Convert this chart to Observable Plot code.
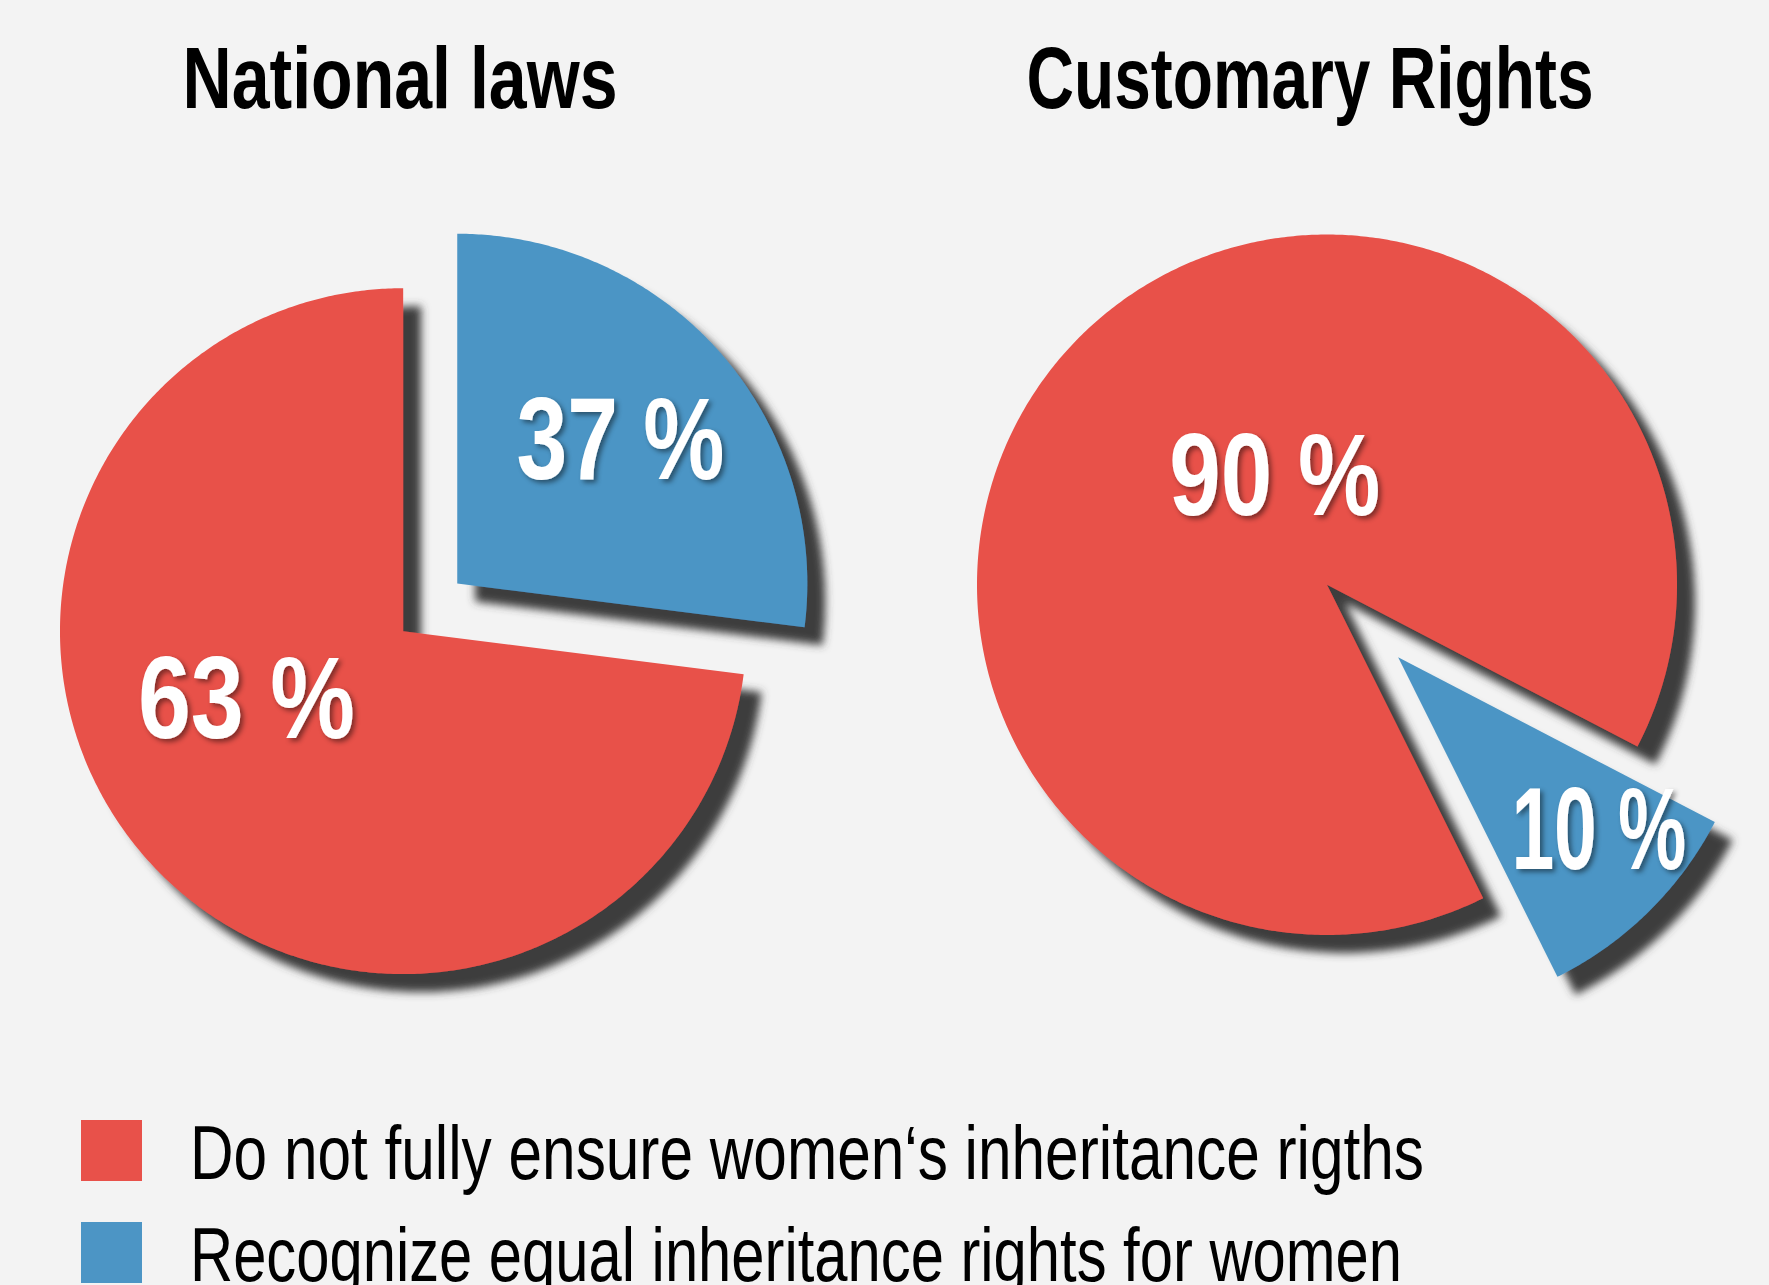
<!DOCTYPE html>
<html>
<head>
<meta charset="utf-8">
<script src="https://cdn.jsdelivr.net/npm/d3@7"></script>
<script src="https://cdn.jsdelivr.net/npm/@observablehq/plot@0.6"></script>
<style>
  html, body { margin: 0; padding: 0; background: #f3f3f3; }
  #page { position: relative; width: 1769px; height: 1285px; overflow: hidden; background: #f3f3f3; }
  .pie { position: absolute; }
  .overlay { position: absolute; left: 0; pointer-events: none; }
</style>
</head>
<body>
<div id="page"></div>
<script>
// ---------- DATA ----------
const panels = ["National laws", "Customary Rights"];
const categories = [
  "Do not fully ensure women‘s inheritance rigths",
  "Recognize equal inheritance rights for women"
];
// labelled shares (percent)
const nationalValues = [63, 37];
const customaryValues = [90, 10];
// angular share of each wedge as drawn in the picture
// (the "National laws" blue wedge is drawn at roughly 27 % of the circle)
const nationalDrawn = [73, 27];
const customaryDrawn = [90, 10];
const colors = ["#e8514a", "#4c95c5"];

// ---------- LAYOUT (not data) ----------
const FONT = "'Liberation Sans Narrow', 'Liberation Sans', 'DejaVu Sans Condensed', Arial, sans-serif";
const layout = [
  { cx: 402, cy: 631, radius: 343, startDeg: 0, explode: 0.21, blueScale: 1.02,
    xd: [-1.15, 1.35], yd: [-1.15, 1.25],
    labels: [{a: 246, r: 0.50, w: 217}, {a: 49, r: 0.63, w: 208}],
    title: {x: 400, y: 108, w: 435} },
  { cx: 1326, cy: 584, radius: 350, startDeg: 117.5, explode: 0.29, blueScale: 1.02,
    xd: [-1.05, 1.25], yd: [-1.25, 1.1],
    labels: [{a: 334, r: 0.34, w: 211}, {a: 131, r: 0.76, w: 175}],
    title: {x: 1310, y: 108, w: 567} }
];
const pieData = [
  {values: nationalValues, drawn: nationalDrawn},
  {values: customaryValues, drawn: customaryDrawn}
];

const page = d3.select("#page");
const rad = (deg) => deg * Math.PI / 180;

// ---------- Titles ----------
const head = page.append("svg").attr("class", "overlay")
  .style("top", "0px").attr("width", 1769).attr("height", 150);
panels.forEach((t, p) => {
  const T = layout[p].title;
  head.append("text").text(t)
    .attr("x", T.x).attr("y", T.y)
    .attr("text-anchor", "middle")
    .attr("font-family", FONT).attr("font-weight", "bold").attr("font-size", 88)
    .attr("fill", "#000")
    .attr("textLength", T.w).attr("lengthAdjust", "spacingAndGlyphs");
});

// ---------- Pies ----------
pieData.forEach((pd, p) => {
  const L = layout[p];
  const order = [1, 0]; // blue wedge first, clockwise from its start angle, then red
  const arcs = d3.pie().sort(null).value(i => pd.drawn[i])
    .startAngle(rad(L.startDeg)).endAngle(rad(L.startDeg) + 2 * Math.PI)(order);

  const points = [];
  const labels = [];
  arcs.forEach(arc => {
    const i = arc.data;
    const mid = (arc.startAngle + arc.endAngle) / 2;
    const ex = i === 1 ? L.explode : 0;
    const ox = ex * Math.sin(mid), oy = ex * Math.cos(mid);
    const r = i === 1 ? L.blueScale : 1;
    const n = Math.max(4, Math.ceil((arc.endAngle - arc.startAngle) / rad(0.5)));
    points.push({key: i, cat: categories[i], x: ox, y: oy});
    for (let k = 0; k <= n; k++) {
      const a = arc.startAngle + (arc.endAngle - arc.startAngle) * k / n;
      points.push({key: i, cat: categories[i], x: ox + r * Math.sin(a), y: oy + r * Math.cos(a)});
    }
    points.push({key: i, cat: categories[i], x: ox, y: oy});
    const lp = L.labels[i];
    labels.push({
      text: `${pd.values[i]} %`,
      x: ox + lp.r * Math.sin(rad(lp.a)),
      y: oy + lp.r * Math.cos(rad(lp.a)),
      w: lp.w
    });
  });

  const W = Math.round((L.xd[1] - L.xd[0]) * L.radius);
  const H = Math.round((L.yd[1] - L.yd[0]) * L.radius);
  const chart = Plot.plot({
    width: W, height: H,
    margin: 0,
    x: {domain: L.xd, axis: null},
    y: {domain: L.yd, axis: null},
    color: {domain: categories, range: colors},
    style: {background: "transparent", overflow: "visible", maxWidth: "none"},
    marks: [
      Plot.line(points, {x: "x", y: "y", z: "key", fill: "cat", stroke: "none", curve: "linear"}),
      Plot.text(labels, {x: "x", y: "y", text: "text", fill: "white",
        fontSize: 117, fontWeight: "bold", fontFamily: FONT})
    ]
  });

  const svg = d3.select(chart);
  const defs = svg.insert("defs", ":first-child");
  const fs = defs.append("filter").attr("id", `shadow${p}`)
    .attr("x", "-20%").attr("y", "-20%").attr("width", "150%").attr("height", "150%");
  fs.append("feDropShadow").attr("dx", 18).attr("dy", 18).attr("stdDeviation", 4.5)
    .attr("flood-color", "#3d3d3d").attr("flood-opacity", 1);
  const ft = defs.append("filter").attr("id", `tshadow${p}`)
    .attr("x", "-20%").attr("y", "-20%").attr("width", "150%").attr("height", "150%");
  ft.append("feDropShadow").attr("dx", 3).attr("dy", 3).attr("stdDeviation", 2.5)
    .attr("flood-color", "#000").attr("flood-opacity", 0.45);

  svg.selectAll('g[aria-label="line"]').attr("filter", `url(#shadow${p})`);
  svg.selectAll('g[aria-label="text"]').attr("filter", `url(#tshadow${p})`);
  svg.selectAll('g[aria-label="text"] text').each(function() {
    const lab = labels.find(l => l.text === this.textContent);
    if (lab) d3.select(this).attr("textLength", lab.w).attr("lengthAdjust", "spacingAndGlyphs");
  });

  page.append("div").attr("class", "pie")
    .style("left", `${L.cx + L.xd[0] * L.radius}px`)
    .style("top", `${L.cy - L.yd[1] * L.radius}px`)
    .style("width", `${W}px`).style("height", `${H}px`)
    .node().appendChild(chart);
});

// ---------- Legend ----------
const leg = page.append("svg").attr("class", "overlay")
  .style("top", "1100px").attr("width", 1769).attr("height", 185);
const legendRows = [
  {y: 20, w: 1234},
  {y: 122, w: 1212}
];
categories.forEach((c, i) => {
  const R = legendRows[i];
  leg.append("rect").attr("x", 81).attr("y", R.y).attr("width", 61).attr("height", 61)
    .attr("fill", colors[i]);
  leg.append("text").text(c)
    .attr("x", 190).attr("y", R.y + 59)
    .attr("font-family", FONT).attr("font-size", 76).attr("fill", "#000")
    .attr("textLength", R.w).attr("lengthAdjust", "spacingAndGlyphs");
});
</script>
</body>
</html>
